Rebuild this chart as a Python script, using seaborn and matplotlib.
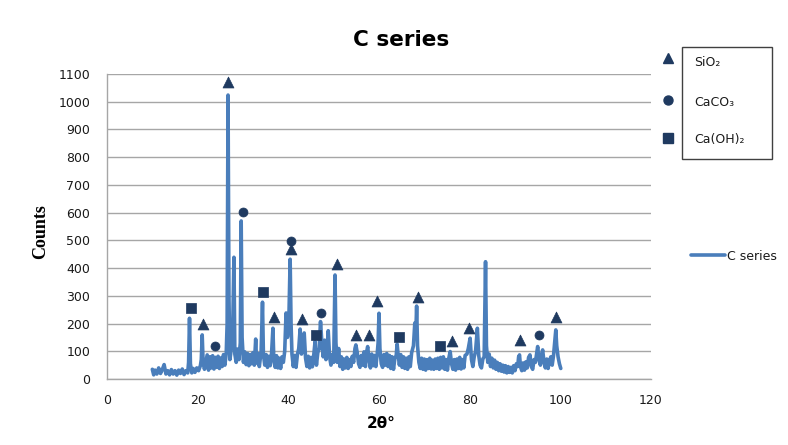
import numpy as np
import pandas as pd
import matplotlib
matplotlib.use("Agg")
import matplotlib.pyplot as plt
import seaborn as sns
from matplotlib.lines import Line2D
from matplotlib.patches import Rectangle

# ---------------- data ----------------
two_theta = [10.0, 10.3, 10.6, 11.0, 11.4, 11.8, 12.2, 12.6, 13.0, 13.4, 13.8, 14.2, 14.6, 15.0, 15.4, 15.8,
             16.2, 16.6, 17.0, 17.4, 17.8, 18.0, 18.2, 18.4, 18.7, 19.0, 19.4, 19.8, 20.2, 20.6, 20.8, 21.0,
             21.2, 21.5, 21.8, 22.1, 22.4, 22.7, 23.0, 23.3, 23.6, 23.9, 24.2, 24.5, 24.8, 25.1, 25.4, 25.7,
             26.0, 26.3, 26.5, 26.7, 26.9, 27.1, 27.4, 27.7, 28.0, 28.2, 28.5, 28.8, 29.1, 29.4, 29.6, 29.8,
             30.1, 30.4, 30.7, 31.0, 31.3, 31.6, 31.9, 32.2, 32.5, 32.8, 33.0, 33.3, 33.6, 34.0, 34.3, 34.5,
             34.8, 35.1, 35.4, 35.7, 36.0, 36.3, 36.6, 36.8, 37.1, 37.4, 37.7, 38.0, 38.3, 38.6, 38.9, 39.2,
             39.5, 39.8, 40.1, 40.4, 40.6, 40.8, 41.1, 41.4, 41.7, 42.0, 42.3, 42.6, 42.9, 43.2, 43.5, 43.8,
             44.1, 44.4, 44.7, 45.0, 45.3, 45.6, 45.9, 46.2, 46.5, 46.8, 47.1, 47.4, 47.7, 48.0, 48.3, 48.6,
             48.8, 49.1, 49.4, 49.7, 50.0, 50.3, 50.5, 50.8, 51.1, 51.4, 51.7, 52.0, 52.3, 52.6, 52.9, 53.2,
             53.5, 53.8, 54.1, 54.4, 54.7, 54.9, 55.2, 55.5, 55.8, 56.1, 56.4, 56.7, 57.0, 57.3, 57.5, 57.8,
             58.1, 58.4, 58.7, 59.0, 59.3, 59.6, 59.8, 60.0, 60.2, 60.5, 60.8, 61.1, 61.4, 61.7, 62.0, 62.3,
             62.6, 62.9, 63.2, 63.5, 63.8, 64.0, 64.2, 64.5, 64.8, 65.1, 65.4, 65.7, 66.0, 66.3, 66.6, 66.9,
             67.2, 67.6, 67.9, 68.1, 68.3, 68.5, 68.8, 69.1, 69.4, 69.7, 70.0, 70.3, 70.6, 70.9, 71.2, 71.5,
             71.8, 72.1, 72.4, 72.7, 73.0, 73.3, 73.6, 73.9, 74.2, 74.5, 74.8, 75.1, 75.4, 75.7, 76.0, 76.3,
             76.6, 76.9, 77.2, 77.5, 77.8, 78.1, 78.4, 78.7, 79.0, 79.4, 79.7, 80.1, 80.4, 80.7, 81.0, 81.3,
             81.7, 82.0, 82.3, 82.6, 82.9, 83.2, 83.5, 83.7, 84.0, 84.3, 84.6, 84.9, 85.2, 85.5, 85.8, 86.1,
             86.4, 86.7, 87.0, 87.3, 87.6, 87.9, 88.2, 88.5, 88.8, 89.1, 89.4, 89.7, 90.0, 90.3, 90.6, 90.8,
             91.0, 91.2, 91.5, 91.8, 92.1, 92.4, 92.7, 93.0, 93.3, 93.6, 93.9, 94.2, 94.5, 94.8, 95.0, 95.3,
             95.6, 95.9, 96.1, 96.4, 96.7, 97.0, 97.3, 97.6, 97.9, 98.2, 98.5, 98.8, 99.0, 99.2, 99.5, 99.8,
             100.1]
counts = [35, 15, 32, 18, 40, 20, 34, 52, 18, 30, 15, 34, 18, 30, 14, 32,
          20, 36, 16, 30, 22, 60, 219, 55, 22, 38, 24, 40, 30, 48, 70, 159,
          60, 35, 62, 87, 32, 80, 40, 84, 36, 78, 42, 82, 38, 76, 45, 88,
          50, 92, 200, 1024, 300, 70, 105, 150, 439, 90, 60, 108, 70, 130, 570, 150,
          60, 98, 52, 92, 48, 88, 55, 95, 50, 144, 58, 92, 45, 100, 277, 90,
          50, 88, 42, 82, 48, 92, 183, 70, 42, 84, 40, 75, 38, 80, 60, 100,
          238, 150, 200, 432, 200, 90, 45, 85, 42, 88, 110, 180, 90, 130, 166, 75,
          45, 82, 40, 78, 44, 85, 135, 50, 95, 110, 207, 130, 80, 140, 70, 120,
          174, 80, 50, 88, 60, 375, 130, 60, 110, 45, 80, 35, 72, 40, 78, 38,
          70, 45, 82, 60, 110, 123, 95, 55, 42, 85, 50, 98, 45, 100, 117, 70,
          40, 90, 48, 85, 45, 90, 130, 237, 110, 55, 42, 88, 50, 92, 45, 85,
          38, 80, 35, 75, 85, 126, 90, 50, 88, 42, 80, 38, 75, 35, 80, 45,
          95, 120, 202, 150, 263, 120, 60, 38, 75, 35, 72, 32, 70, 38, 75, 36,
          68, 35, 72, 38, 75, 35, 78, 40, 80, 35, 70, 32, 75, 99, 55, 35,
          70, 32, 72, 38, 78, 36, 70, 40, 85, 90, 110, 147, 70, 45, 80, 100,
          183, 85, 50, 40, 72, 80, 423, 120, 60, 90, 45, 75, 40, 68, 35, 60,
          30, 55, 28, 50, 25, 48, 22, 45, 24, 42, 22, 48, 30, 55, 45, 80,
          87, 45, 30, 58, 32, 62, 40, 78, 87, 45, 35, 70, 60, 95, 117, 70,
          50, 90, 105, 60, 40, 72, 38, 65, 80, 50, 85, 140, 177, 120, 80, 55,
          38]

sio2_x = [26.8, 21.2, 36.8, 40.6, 43.1, 50.7, 55.0, 57.9, 59.5, 68.5, 76.0, 79.9, 91.0, 99.1]
sio2_y = [1072, 198, 225, 468, 216, 415, 157, 159, 281, 297, 138, 185, 141, 225]
caco3_x = [23.8, 29.9, 40.6, 47.2, 95.3]
caco3_y = [119, 603, 498, 237, 158]
caoh2_x = [18.5, 34.5, 46.1, 64.4, 73.5]
caoh2_y = [255, 315, 157, 153, 119]

phase_labels = ["SiO\u2082", "CaCO\u2083", "Ca(OH)\u2082"]
series_label = "C series"
title_text = "C series"
xlabel_text = "2\u03b8\u00b0"
ylabel_text = "Counts"
x_ticks = [0, 20, 40, 60, 80, 100, 120]
y_ticks = list(range(0, 1101, 100))

# ---------------- styling ----------------
line_color = "#4a7ebb"
mark_color = "#1f3a60"
grid_color = "#a6a6a6"
text_color = "#1a1a1a"
W, H = 788, 445

sns.set_theme(style="white")
plt.rcParams["font.family"] = ["DejaVu Sans"]

fig = plt.figure(figsize=(W / 100, H / 100), dpi=100)
ax = fig.add_axes([107 / W, 1 - 379 / H, (651 - 107) / W, (379 - 74) / H])

df = pd.DataFrame({"two_theta": two_theta, "counts": counts})
sns.lineplot(data=df, x="two_theta", y="counts", ax=ax, color=line_color,
             linewidth=2.6, estimator=None, sort=False, legend=False)

tri_s, circ_s, sq_s = 62, 42, 44
sns.scatterplot(x=sio2_x, y=sio2_y, ax=ax, marker="^", s=tri_s, color=mark_color,
                edgecolor=mark_color, linewidth=0.5, zorder=5, legend=False)
sns.scatterplot(x=caco3_x, y=caco3_y, ax=ax, marker="o", s=circ_s, color=mark_color,
                edgecolor=mark_color, linewidth=0.5, zorder=5, legend=False)
sns.scatterplot(x=caoh2_x, y=caoh2_y, ax=ax, marker="s", s=sq_s, color=mark_color,
                edgecolor=mark_color, linewidth=0.5, zorder=5, legend=False)

ax.set_xlim(0, 120)
ax.set_ylim(0, 1100)
ax.set_xticks(x_ticks)
ax.set_yticks(y_ticks)
ax.tick_params(axis="both", length=0, labelsize=9, colors=text_color)
ax.tick_params(axis="y", pad=12)
ax.tick_params(axis="x", pad=11)
ax.yaxis.grid(True, color=grid_color, linewidth=1.0)
ax.xaxis.grid(False)
for side in ["top", "right"]:
    ax.spines[side].set_visible(False)
for side in ["left", "bottom"]:
    ax.spines[side].set_color(grid_color)
    ax.spines[side].set_linewidth(1.0)
ax.set_xlabel("")
ax.set_ylabel("")

fig.text(401 / W, 1 - 40 / H, title_text, ha="center", va="center",
         fontsize=15.5, fontweight="bold", color="black")
fig.text(381 / W, 1 - 423 / H, xlabel_text, ha="center", va="center",
         fontsize=11, fontweight="bold", color="black")
fig.text(41 / W, 1 - 232 / H, ylabel_text, ha="center", va="center", rotation=90,
         fontsize=13, fontweight="bold", color="black",
         family=["Liberation Serif", "DejaVu Serif"])

# phase key: markers outside a framed box holding the names
fig.add_artist(Rectangle((682 / W, 1 - 159 / H), (772 - 682) / W, (159 - 47) / H,
                         transform=fig.transFigure, fill=False,
                         edgecolor="#404040", linewidth=1.0))
key_markers = [("^", np.sqrt(tri_s)), ("o", np.sqrt(circ_s)), ("s", np.sqrt(sq_s))]
key_rows_px = [58, 100, 138]
text_rows_px = [63, 102, 140]
for (mk, ms), ry, ty, lab in zip(key_markers, key_rows_px, text_rows_px, phase_labels):
    fig.add_artist(Line2D([668 / W], [1 - ry / H], transform=fig.transFigure,
                          linestyle="none", marker=mk, markersize=ms,
                          color=mark_color))
    fig.text(694 / W, 1 - ty / H, lab, ha="left", va="center",
             fontsize=9, color=text_color)

# series legend
leg_series = fig.legend(handles=[Line2D([], [], color=line_color, linewidth=2.6)],
                        labels=[series_label], loc="center left",
                        bbox_to_anchor=(686 / W, 1 - 256 / H), frameon=False,
                        handlelength=2.7, handletextpad=0.15, borderaxespad=0,
                        fontsize=9)
for t in leg_series.get_texts():
    t.set_color(text_color)

fig.savefig("out.png", dpi=100)
